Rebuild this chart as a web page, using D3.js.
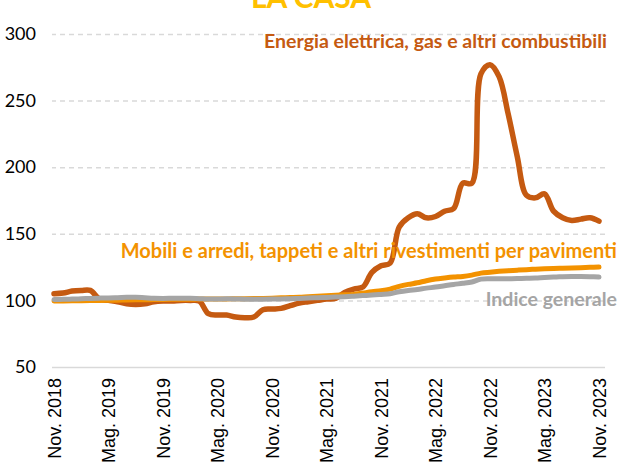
<!DOCTYPE html>
<meta charset="utf-8">
<head>
  <style>
    body { margin: 0; background: #fff; }
    svg { display: block; background: #fff; }
    .grid line { stroke: #d9d9d9; stroke-width: 1.5px; stroke-dasharray: 5,4; }
    .grid .base line { stroke-dasharray: none; }
    .grid path { display: none; }
    .ylab text { font-family: Lato, sans-serif; font-size: 18px; fill: #000; }
    .xlab text { font-family: "Liberation Sans", Arial, sans-serif; font-size: 18px; fill: #000; }
    .xlab path, .xlab line, .ylab path, .ylab line { display: none; }
    .serie { fill: none; stroke-linecap: round; stroke-linejoin: round; }
    .lbl { font-family: Lato, sans-serif; font-weight: bold; font-size: 19.5px; }
  </style>
  <script src="https://cdnjs.cloudflare.com/ajax/libs/d3/7.8.5/d3.min.js"></script>
</head>
<body>
<script>
  // mesi da Nov. 2018 (0) a Nov. 2023 (60)
  var tickMonths = [0, 6, 12, 18, 24, 30, 36, 42, 48, 54, 60];
  var tickLabels = ["Nov. 2018", "Mag. 2019", "Nov. 2019", "Mag. 2020", "Nov. 2020", "Mag. 2021",
                    "Nov. 2021", "Mag. 2022", "Nov. 2022", "Mag. 2023", "Nov. 2023"];
  var yTicks = [50, 100, 150, 200, 250, 300];

  var energia = [105, 105.5, 107, 107.5, 107.5, 101, 100, 99, 97.5, 97, 97.5, 99, 99.5,
                 99.5, 100, 100, 99.5, 90, 89, 89, 87.5, 87, 87.5, 93, 93.5,
                 94, 96, 98, 99, 100, 101, 101.5, 106, 108.5, 110, 121, 126,
                 128, 155, 162, 165, 162, 163, 167, 169, 188, 188, 270, 277,
                 268, 240, 208, 179, 177, 180, 167, 162, 160, 161, 162, 159.5];

  var mobili = [99.5, 99.6, 99.7, 99.8, 99.9, 100, 100.1, 100.2, 100.3, 100.4, 100.5, 100.6, 100.7,
                100.8, 100.9, 100.9, 101, 101, 101.1, 101.1, 101.2, 101.3, 101.4, 101.5, 101.7,
                101.9, 102.1, 102.3, 102.8, 103.2, 103.5, 103.8, 104.2, 104.5, 105.5, 106.5, 107.3,
                108.5, 110.5, 112, 113.2, 114.8, 116, 116.8, 117.5, 118, 119, 120.5, 121.2,
                121.8, 122.3, 122.7, 123.1, 123.4, 123.7, 124, 124.2, 124.4, 124.6, 124.8, 125];

  var indice = [100.7, 100.8, 101, 101.2, 101.5, 101.7, 101.8, 102, 102.3, 102.4, 102, 101.6, 101.5,
                101.6, 101.7, 101.6, 101.3, 101, 101.1, 101.2, 101.1, 100.9, 100.8, 100.9, 101,
                101.1, 101.3, 101.5, 101.8, 102, 102.2, 102.5, 102.8, 103.2, 103.6, 104, 104.5,
                105, 106.5, 107.5, 108.2, 109.2, 110, 111, 112, 112.8, 113.8, 116, 116.3,
                116.3, 116.3, 116.4, 116.6, 116.8, 117.2, 117.5, 117.8, 118, 118, 117.8, 117.5];

  var width = 622, height = 472;

  var svg = d3.select("body").append("svg")
      .attr("width", width)
      .attr("height", height);

  var x = d3.scaleLinear().domain([0, 60]).range([54, 599]);
  var y = d3.scaleLinear().domain([50, 300]).range([367, 34]);

  // griglia
  var grid = svg.append("g")
      .attr("class", "grid")
      .attr("transform", "translate(605,0)")
      .call(d3.axisLeft(y).tickValues(yTicks).tickSize(553).tickFormat(""));
  grid.selectAll(".tick").classed("base", function(d) { return d === 50; });

  svg.append("g")
      .attr("class", "ylab")
      .attr("transform", "translate(36,0)")
      .call(d3.axisLeft(y).tickValues(yTicks).tickSize(0).tickPadding(0));

  var xa = svg.append("g")
      .attr("class", "xlab")
      .attr("transform", "translate(0,378)")
      .call(d3.axisBottom(x).tickValues(tickMonths).tickSize(0)
        .tickFormat(function(d, i) { return tickLabels[i]; }));
  xa.selectAll("text")
      .attr("transform", "rotate(-90)")
      .attr("x", 0)
      .attr("y", 0)
      .attr("dy", "0.35em")
      .style("text-anchor", "end");

  var line = d3.line()
      .x(function(d, i) { return x(i); })
      .y(function(d) { return y(d); })
      .curve(d3.curveCatmullRom.alpha(0.5));

  svg.append("path").datum(energia).attr("class", "serie")
      .attr("stroke", "#c55a11").attr("stroke-width", 5.5).attr("d", line);
  svg.append("path").datum(mobili).attr("class", "serie")
      .attr("stroke", "#f39200").attr("stroke-width", 5).attr("d", line);
  svg.append("path").datum(indice).attr("class", "serie")
      .attr("stroke", "#a5a5a5").attr("stroke-width", 5).attr("d", line);

  // etichette
  svg.append("text").attr("class", "lbl")
      .attr("x", 311).attr("y", 8)
      .attr("text-anchor", "middle")
      .style("font-size", "30px")
      .attr("fill", "#ffc000")
      .text("LA CASA");

  svg.append("text").attr("class", "lbl")
      .attr("x", 607).attr("y", 48)
      .attr("text-anchor", "end")
      .attr("fill", "#c55a11")
      .text("Energia elettrica, gas e altri combustibili");

  svg.append("text").attr("class", "lbl")
      .attr("x", 617).attr("y", 258)
      .attr("text-anchor", "end")
      .style("font-size", "20px")
      .attr("fill", "#f39200")
      .text("Mobili e arredi, tappeti e altri rivestimenti per pavimenti");

  svg.append("text").attr("class", "lbl")
      .attr("x", 617).attr("y", 306)
      .attr("text-anchor", "end")
      .attr("fill", "#a5a5a5")
      .text("Indice generale");
</script>
</body>
